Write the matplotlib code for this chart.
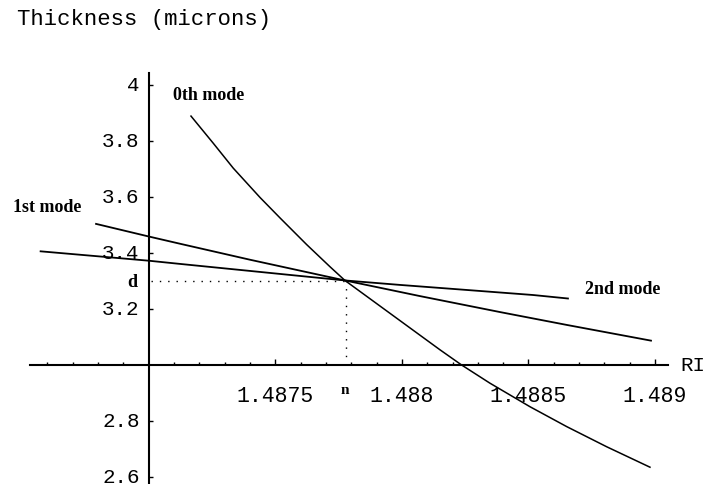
import matplotlib
matplotlib.use("Agg")
import matplotlib.pyplot as plt
import numpy as np
from matplotlib.ticker import FixedLocator

# 0th mode
ri_0 = [1.487167, 1.487255, 1.487334, 1.48744, 1.487519, 1.487624, 1.487716,
        1.487775, 1.488151, 1.488236, 1.488348, 1.488506, 1.488651, 1.488809, 1.48898]
t_0 = [3.889, 3.792, 3.703, 3.598, 3.525, 3.430, 3.351,
       3.302, 3.054, 3.000, 2.935, 2.851, 2.780, 2.708, 2.635]

# 1st mode (steeper)
ri_1 = [1.486792, 1.487, 1.487124, 1.4874, 1.487775, 1.488072, 1.488388, 1.488652, 1.488984]
t_1 = [3.504, 3.459, 3.433, 3.376, 3.302, 3.246, 3.189, 3.143, 3.087]

# 2nd mode (flatter)
ri_2 = [1.486573, 1.487, 1.487124, 1.487775, 1.487993, 1.488256, 1.488518, 1.488656]
t_2 = [3.406, 3.3725, 3.361, 3.302, 3.286, 3.268, 3.250, 3.2375]

n_val = 1.48778
d_val = 3.30

x_ticks = [1.4875, 1.488, 1.4885, 1.489]
x_labels = ["1.4875", "1.488", "1.4885", "1.489"]
y_ticks = [2.6, 2.8, 3.2, 3.4, 3.6, 3.8, 4.0]
y_labels = ["2.6", "2.8", "3.2", "3.4", "3.6", "3.8", "4"]

mono = "Liberation Mono"
serif = "Liberation Serif"

fig = plt.figure(figsize=(7.1, 4.84), dpi=100)
ax = fig.add_axes([0, 0, 1, 1])
ax.set_xlim(1.4864126, 1.4892171)
ax.set_ylim(2.575, 4.3036)

for s in ("top", "right"):
    ax.spines[s].set_visible(False)
ax.spines["left"].set_position(("data", 1.487))
ax.spines["bottom"].set_position(("data", 3.0))
ax.spines["left"].set_bounds(2.58, 4.043)
ax.spines["bottom"].set_bounds(1.48653, 1.48905)
for s in ("left", "bottom"):
    ax.spines[s].set_linewidth(1.5)

# minor ticks every 0.0001 along the drawn part of the axis
minor = [v for v in np.round(np.arange(1.4866, 1.48901, 0.0001), 4)
         if round(v * 2000) != v * 2000]
ax.xaxis.set_major_locator(FixedLocator(x_ticks))
ax.set_xticklabels(x_labels)
ax.xaxis.set_minor_locator(FixedLocator(minor))
ax.yaxis.set_major_locator(FixedLocator(y_ticks))
ax.set_yticklabels(y_labels)

ax.tick_params(axis="x", which="major", direction="in", length=4, width=1,
               pad=15, labelsize=15.5)
ax.tick_params(axis="x", which="minor", direction="in", length=2.5, width=1)
ax.tick_params(axis="y", which="major", direction="in", length=3, width=1,
               pad=6.5, labelsize=15)
for lab in ax.get_xticklabels():
    lab.set_family(mono)
for lab in ax.get_yticklabels():
    lab.set_family(mono)
    lab.set_verticalalignment("center")

ax.plot(ri_0, t_0, color="black", lw=1.1)
ax.plot(ri_1, t_1, color="black", lw=1.3)
ax.plot(ri_2, t_2, color="black", lw=1.3)

ax.plot([1.48701, n_val], [d_val, d_val], color="black", lw=1, ls=(0, (1, 5)))
ax.plot([n_val, n_val], [3.0, d_val], color="black", lw=1, ls=(0, (1, 5)))

lab_kw = dict(family=serif, weight="bold", fontsize=13, color="black")
ax.text(1.487096, 3.964, "0th mode", ha="left", va="center", **lab_kw)
ax.text(1.486464, 3.564, "1st mode", ha="left", va="center", **lab_kw)
ax.text(1.488723, 3.268, "2nd mode", ha="left", va="center", **lab_kw)
ax.text(1.486954, 3.293, "d", ha="right", va="center", **lab_kw)
ax.text(n_val - 0.000005, 2.91, "n", ha="center", va="center", family=serif,
        weight="bold", fontsize=11)

ax.text(1.48910, 3.0, "RI", ha="left", va="center", family=mono, fontsize=15)
fig.text(17 / 710, 1 - 20 / 484, "Thickness (microns)", ha="left", va="center",
         family=mono, fontsize=16)

fig.savefig("out.png", dpi=100)
